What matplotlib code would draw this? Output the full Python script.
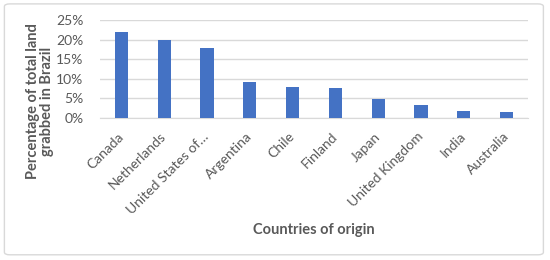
import matplotlib
matplotlib.use("Agg")
import matplotlib.pyplot as plt
from matplotlib.patches import FancyBboxPatch
from matplotlib.ticker import FuncFormatter, MultipleLocator

countries = ["Canada", "Netherlands", "United States of…", "Argentina", "Chile",
             "Finland", "Japan", "United Kingdom", "India", "Australia"]
values = [21.9, 19.9, 17.9, 9.2, 8.0, 7.7, 4.9, 3.3, 1.9, 1.6]

plt.rcParams['font.family'] = ['Lato', 'DejaVu Sans']
txt = '#595959'

fig = plt.figure(figsize=(5.5, 2.6), dpi=100)
ax = fig.add_axes([0.182, 0.546, 0.778, 0.377])

x = range(len(countries))
ax.bar(x, values, width=0.31, color='#4472C4', zorder=3)
ax.set_xlim(-0.5, len(countries) - 0.5)
ax.set_ylim(0, 25)
ax.yaxis.set_major_locator(MultipleLocator(5))
ax.yaxis.set_major_formatter(FuncFormatter(lambda v, p: f"{int(v)}%"))
ax.grid(axis='y', color='#D9D9D9', linewidth=1, zorder=0)
for s in ['top', 'right', 'left']:
    ax.spines[s].set_visible(False)
ax.spines['bottom'].set_color('#D9D9D9')
ax.tick_params(axis='both', length=0, colors=txt, labelsize=10)
ax.tick_params(axis='y', pad=12)
ax.set_xticks(list(x))
ax.set_xticklabels(countries, rotation=45, ha='right', va='center',
                   rotation_mode='anchor', color=txt, fontsize=10)
ax.tick_params(axis='x', pad=12)

fig.text(0.073, 0.61, "Percentage of total land\ngrabbed in Brazil", rotation=90,
         ha='center', va='center', fontsize=10.5, fontweight='bold', color=txt,
         linespacing=1.05, multialignment='center')
fig.text(0.571, 0.115, "Countries of origin", ha='center', va='center',
         fontsize=10.5, fontweight='bold', color=txt)

border = FancyBboxPatch((0.008, 0.02), 0.98, 0.965, boxstyle="round,pad=0,rounding_size=0.01",
                        transform=fig.transFigure, fill=False, edgecolor='#D9D9D9',
                        linewidth=1)
fig.patches.append(border)

fig.savefig("out.png", dpi=100)
